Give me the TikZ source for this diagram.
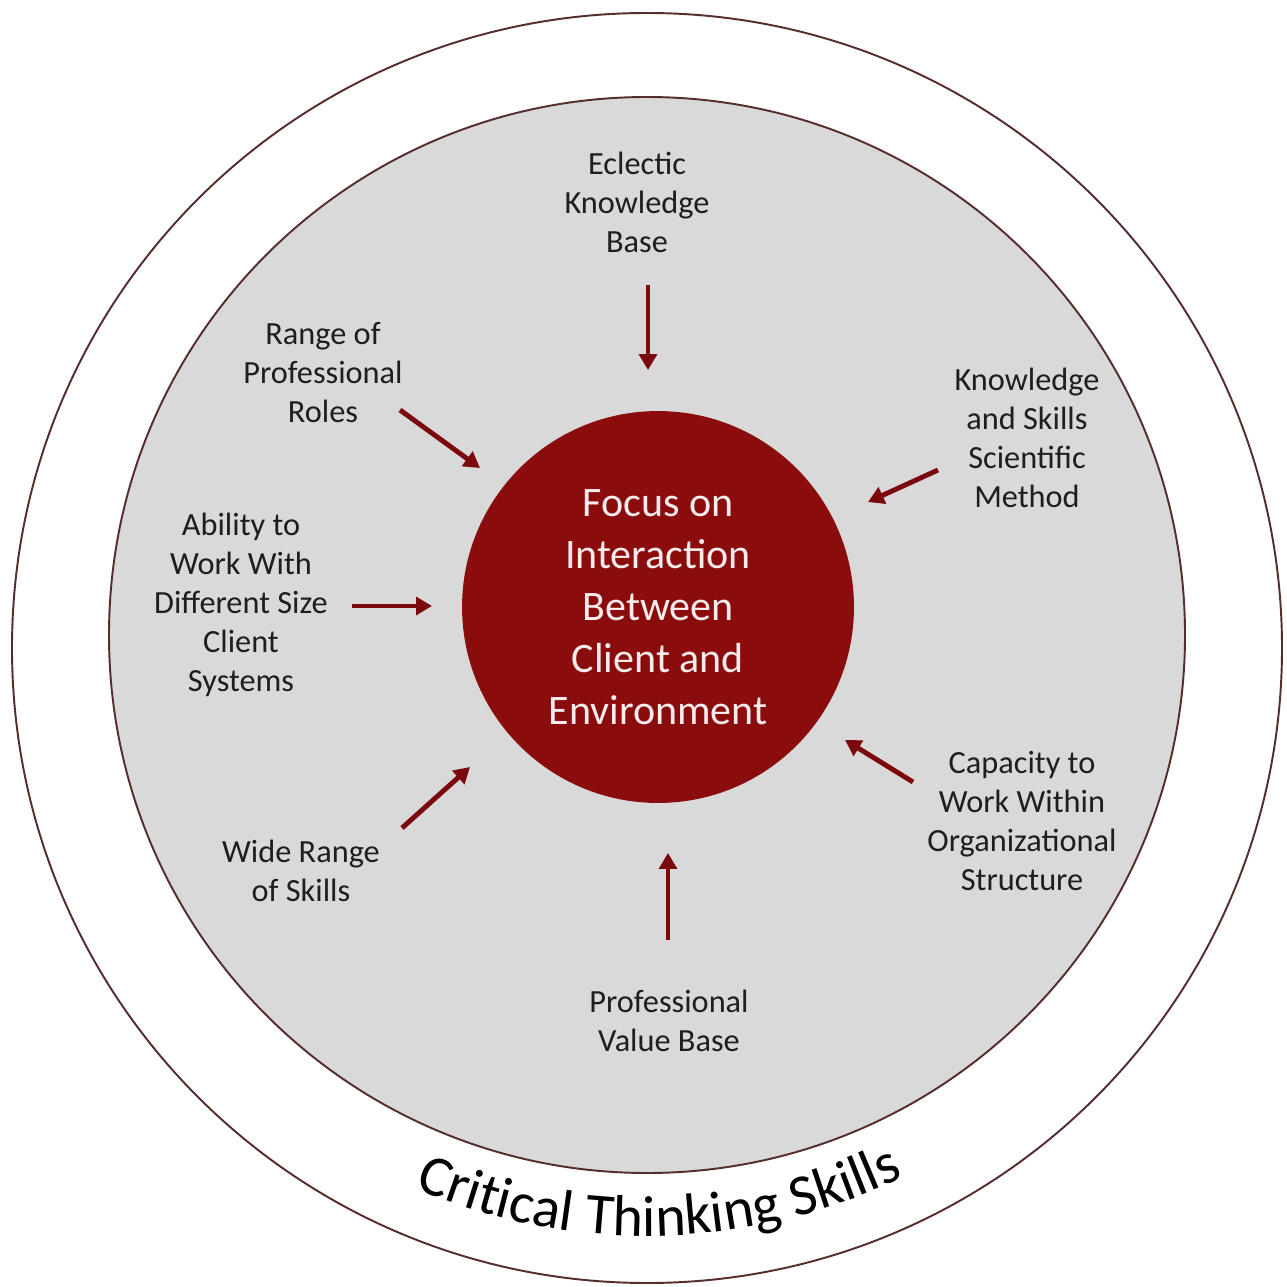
\documentclass[tikz,border=0pt]{standalone}
\usepackage{fontspec}
\setmainfont{Carlito}
\usetikzlibrary{arrows.meta,decorations.text}
\definecolor{ringline}{RGB}{85,45,45}
\definecolor{ringgray}{RGB}{217,217,217}
\definecolor{focusred}{RGB}{139,12,12}
\definecolor{arrowred}{RGB}{122,8,12}
\definecolor{labelgray}{RGB}{30,30,30}
\definecolor{focustext}{RGB}{250,236,236}
\begin{document}
\begin{tikzpicture}[x=0.02cm,y=0.02cm,
			labeltext/.style={align=center, text=labelgray, inner sep=0pt, font=\fontsize{18.4}{22.2}\selectfont},
			pointer/.style={draw=arrowred, line width=2.8pt, -{Triangle[length=9pt,width=10pt]}},
			]
    \useasboundingbox (0,0) rectangle (1287,1286);
    \draw[ringline, line width=1.1pt, fill=white] (647,638) circle (635);
    \draw[ringline, line width=1.1pt, fill=ringgray] (647,651) circle (538);
    \node[circle, fill=focusred, minimum size=7.84cm, inner sep=0pt, align=center, text=focustext, font=\fontsize{23.9}{29.6}\selectfont] (focus) at (658,679) {Focus on\\Interaction\\Between\\Client and\\Environment};

    \node[labeltext] (eclectic) at (637,1084) {Eclectic\\Knowledge\\Base};
    \node[labeltext] (roles) at (323,913) {Range of\\Professional\\Roles};
    \node[labeltext] (scientific) at (1027,848) {Knowledge\\and Skills\\Scientific\\Method};
    \node[labeltext] (ability) at (241,681) {Ability to\\Work With\\Different Size\\Client\\Systems};
    \node[labeltext] (capacity) at (1022,465) {Capacity to\\Work Within\\Organizational\\Structure};
    \node[labeltext] (wide) at (301,415) {Wide Range\\of Skills};
    \node[labeltext] (value) at (669,265) {Professional\\Value Base};

    \coordinate (eclectic-a) at (648,1001);
    \coordinate (eclectic-b) at (648,916);
    \coordinate (roles-a) at (400,876);
    \coordinate (roles-b) at (480,818);
    \coordinate (scientific-a) at (938,816);
    \coordinate (scientific-b) at (868,784);
    \coordinate (ability-a) at (352,680);
    \coordinate (ability-b) at (432,680);
    \coordinate (capacity-a) at (913,504);
    \coordinate (capacity-b) at (845,546);
    \coordinate (wide-a) at (402,458);
    \coordinate (wide-b) at (470,519);
    \coordinate (value-a) at (668,346);
    \coordinate (value-b) at (668,433);
    \draw[pointer] (eclectic-a) -- (eclectic-b);
    \draw[pointer] (roles-a) -- (roles-b);
    \draw[pointer] (scientific-a) -- (scientific-b);
    \draw[pointer] (ability-a) -- (ability-b);
    \draw[pointer] (capacity-a) -- (capacity-b);
    \draw[pointer] (wide-a) -- (wide-b);
    \draw[pointer] (value-a) -- (value-b);

    \path[decorate, decoration={text along path, text align=center, text color=black,
        text={|\fontsize{33}{34}\selectfont|Critical Thinking Skills}}]
        (647,640) ++(201.3:590) arc (201.3:341.3:590);
        \end{tikzpicture}
\end{document}
